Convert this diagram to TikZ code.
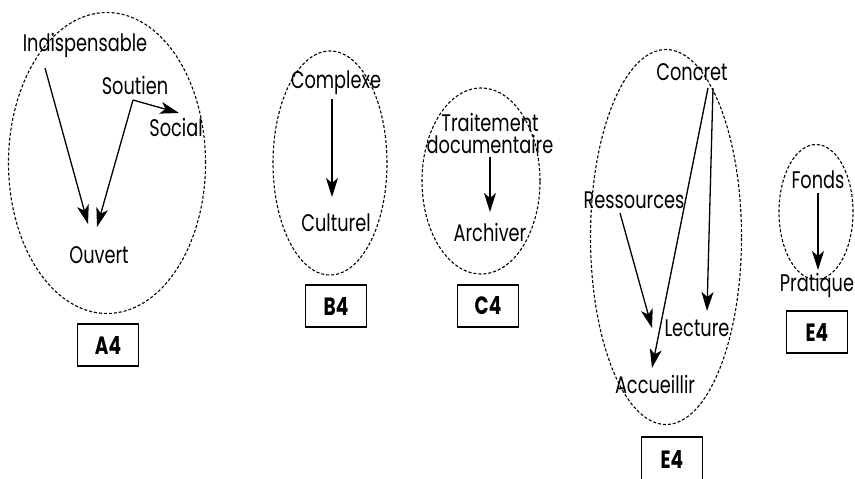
\documentclass[tikz,border=0pt]{standalone}
\usepackage{fontspec}
\setmainfont{Poppins}[FakeStretch=0.74]
\usetikzlibrary{shapes.geometric,arrows.meta}
\begin{document}
\begin{tikzpicture}[x=1pt,y=-1pt,
  word/.style={inner sep=0pt, font=\fontsize{24}{24}\selectfont},
  zone/.style={draw, ellipse, dash pattern=on 3pt off 2pt, line width=1.1pt, inner sep=0pt},
  tag/.style={draw, line width=1.4pt, minimum width=61pt, minimum height=42pt,
    inner sep=0pt, font=\fontsize{25}{25}\selectfont\bfseries},
  link/.style={line width=1.3pt, -{Stealth[length=19pt,width=12pt,inset=5pt]}}]
\useasboundingbox (0,0) rectangle (855,479);

% ---- group A4
\node[zone, minimum width=197pt, minimum height=301pt] (zA) at (107,163) {};
\node[word] (ind) at (85,45) {Indispensable};
\node[word] (sou) at (135,85) {Soutien};
\node[word] (soc) at (176,127) {Social};
\node[word] (ouv) at (99,255) {Ouvert};
\node[tag] (tA) at (108,345) {A4};
\coordinate (indout) at (45,68);
\coordinate (sfork) at (133,100);
\coordinate (ouvinL) at (88,224);
\coordinate (ouvinR) at (97,227);
\coordinate (socin) at (179,113);
\draw[link] (indout) -- (ouvinL);
\draw[link] (sfork) -- (ouvinR);
\draw[link] (sfork) -- (socin);

% ---- group B4
\node[zone, minimum width=114pt, minimum height=224pt] (zB) at (330,163) {};
\node[word] (com) at (336,83) {Complexe};
\node[word] (cul) at (336,223) {Culturel};
\node[tag] (tB) at (336,306) {B4};
\draw[link] (com.south -| 332,0) ++(0,4) -- (332,197);

% ---- group C4
\node[zone, minimum width=118pt, minimum height=186pt] (zC) at (481,181) {};
\node[word, align=center, font=\fontsize{24}{22}\selectfont] (tra) at (490,133) {Traitement\\documentaire};
\node[word] (arc) at (490,232) {Archiver};
\node[tag] (tC) at (488,306) {C4};
\draw[link] (tra.south -| 490,0) ++(0,4) -- (490,212);

% ---- group E4 (large)
\node[zone, minimum width=151pt, minimum height=375pt] (zE) at (666,237) {};
\node[word] (con) at (692,72) {Concret};
\node[word] (res) at (634,200) {Ressources};
\node[word] (lec) at (697,328) {Lecture};
\node[word] (acc) at (655,384) {Accueillir};
\node[tag, minimum height=44pt] (tE) at (672,459) {E4};
\coordinate (conL) at (708,88);
\coordinate (conR) at (713,88);
\coordinate (resout) at (620,213);
\draw[link] (conL) -- (652,368);
\draw[link] (conR) -- (707,311);
\draw[link] (resout) -- (652,328);

% ---- group E4 (small)
\node[zone, minimum width=74pt, minimum height=135pt] (zF) at (816,212) {};
\node[word] (fon) at (818,180) {Fonds};
\node[word] (pra) at (817,285) {Pratique};
\node[tag] (tF) at (817,332) {E4};
\draw[link] (fon.south -| 818,0) ++(0,4) -- (818,270);
\end{tikzpicture}
\end{document}
